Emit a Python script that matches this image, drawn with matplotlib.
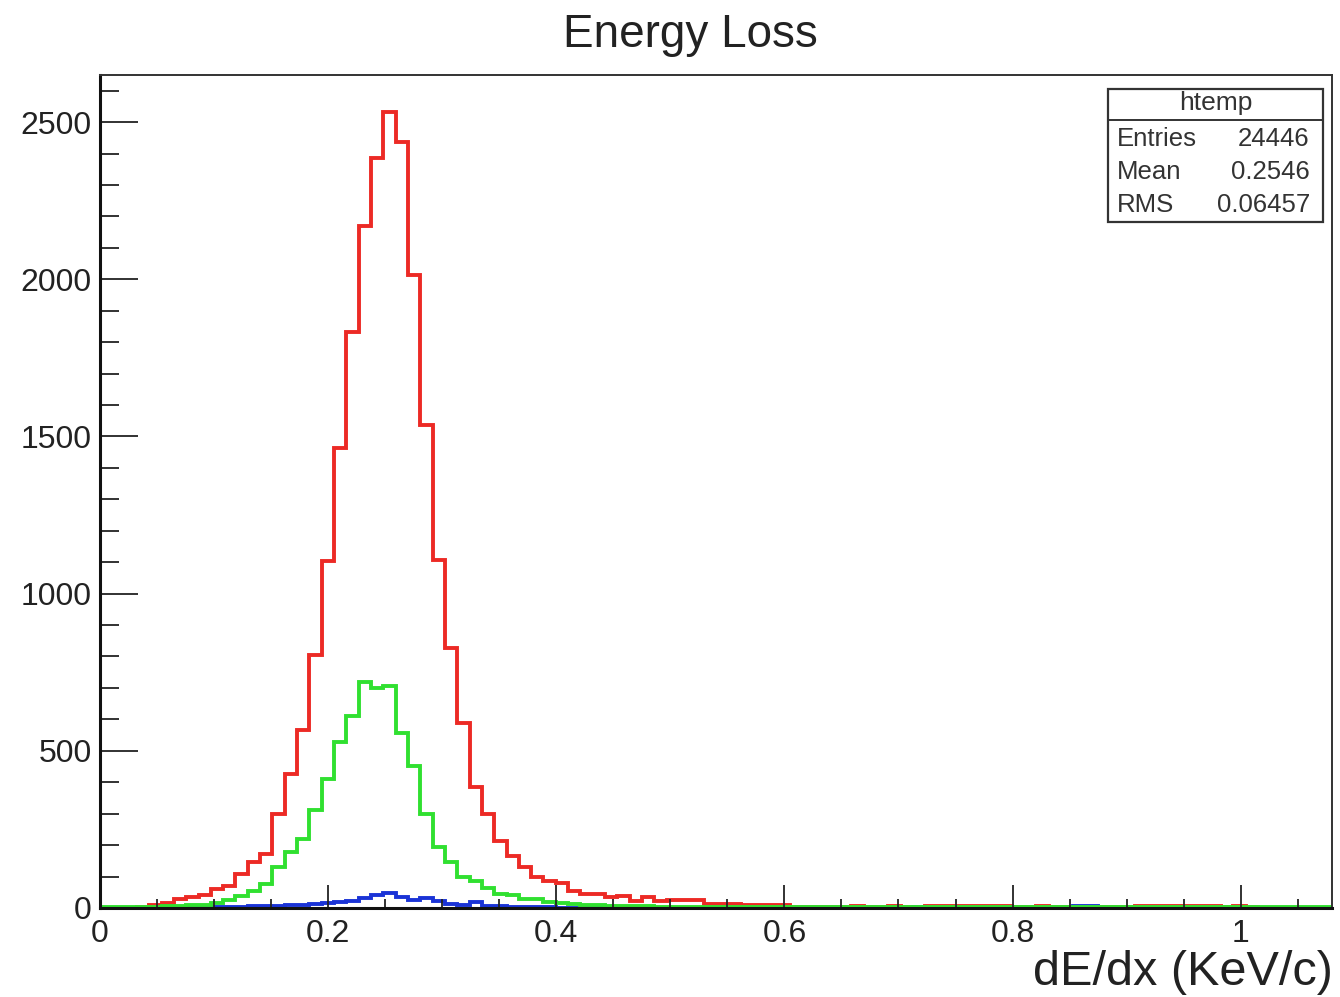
import numpy as np
import matplotlib.pyplot as plt
from matplotlib.patches import Rectangle
from matplotlib.ticker import MultipleLocator

plt.rcParams['font.family'] = ['Liberation Sans', 'DejaVu Sans']

# histogram binning (ROOT htemp: 100 bins over 0 .. 1.08)
x_lo = 0.0
x_hi = 1.08
n_bins = 100

# counts per bin
red_counts = [0, 0, 0, 4, 8, 15, 29, 36, 42, 60,
              70, 108, 145, 172, 299, 425, 567, 805, 1104, 1464,
              1831, 2168, 2386, 2533, 2437, 2013, 1538, 1108, 826, 588,
              386, 299, 214, 166, 129, 98, 87, 80, 55, 46,
              45, 35, 39, 22, 34, 23, 26, 26, 25, 14,
              12, 12, 10, 10, 8, 8, 4, 3, 4, 3,
              3, 7, 3, 2, 7, 2, 3, 7, 7, 7,
              7, 7, 7, 7, 2, 3, 7, 2, 2, 3,
              2, 2, 2, 2, 7, 7, 7, 7, 7, 7,
              7, 2, 6, 2, 0, 0, 0, 0, 0, 0]

green_counts = [4, 4, 4, 4, 4, 5, 6, 8, 10, 15,
                25, 39, 55, 76, 129, 177, 219, 313, 410, 527,
                610, 720, 701, 706, 558, 453, 298, 193, 145, 100,
                86, 62, 46, 40, 30, 28, 20, 15, 12, 10,
                8, 7, 6, 5, 5] + [4] * 55

blue_counts = [0, 0, 0, 0, 0, 0, 0, 0, 0, 2,
               3, 4, 5, 6, 7, 8, 10, 12, 15, 20,
               22, 32, 42, 48, 36, 26, 32, 22, 12, 10,
               20, 6, 5, 4, 3, 2, 2, 1, 1, 1,
               0, 0, 0, 0, 0, 0, 0, 0, 0, 0,
               0, 0, 0, 0, 0, 0, 0, 0, 0, 0,
               0, 0, 0, 0, 0, 0, 2, 0, 0, 0,
               0, 0, 0, 0, 0, 0, 0, 0, 0, 6,
               6, 0, 0, 0, 0, 0, 0, 0, 0, 0,
               0, 0, 0, 0, 0, 0, 0, 0, 0, 0]

stats_title = 'htemp'
stats_names = ['Entries', 'Mean', 'RMS']
stats_values = ['24446', '0.2546', '0.06457']

edges = np.linspace(x_lo, x_hi, n_bins + 1)

fig = plt.figure(figsize=(13.4, 9.97), dpi=100)
ax = fig.add_axes([0.0746, 0.0893, 0.9194, 0.8355])

lw = 2.8
ax.stairs(red_counts, edges, color='#ec2a25', lw=lw)
ax.stairs(blue_counts, edges, color='#1a33d6', lw=lw)
ax.stairs(green_counts, edges, color='#30e030', lw=lw)

ax.set_xlim(x_lo, x_hi)
ax.set_ylim(0, 2650)

ax.xaxis.set_major_locator(MultipleLocator(0.2))
ax.xaxis.set_minor_locator(MultipleLocator(0.05))
ax.yaxis.set_major_locator(MultipleLocator(500))
ax.yaxis.set_minor_locator(MultipleLocator(100))
ax.xaxis.set_major_formatter(plt.FuncFormatter(lambda v, p: '%g' % round(v, 2)))

ax.tick_params(axis='both', which='both', direction='in', color='#222222',
               labelsize=23, labelcolor='#222222')
ax.tick_params(axis='x', which='major', length=16.5, width=1.3, pad=8)
ax.tick_params(axis='x', which='minor', length=6.5, width=1.3)
ax.tick_params(axis='y', which='major', length=27, width=1.3, pad=6)
ax.tick_params(axis='y', which='minor', length=14, width=1.3)

for side in ['left', 'bottom']:
    ax.spines[side].set_linewidth(2.2)
    ax.spines[side].set_color('#111111')
for side in ['top', 'right']:
    ax.spines[side].set_linewidth(1.4)
    ax.spines[side].set_color('#333333')

# stats box
bx0, bx1 = 0.818, 0.9927
by0, by1 = 0.8235, 0.9832
ysep = 0.946
ax.add_patch(Rectangle((bx0, by0), bx1 - bx0, by1 - by0, transform=ax.transAxes,
                       facecolor='white', edgecolor='#333333', lw=1.6, zorder=5))
ax.plot([bx0, bx1], [ysep, ysep], transform=ax.transAxes, color='#333333',
        lw=1.4, zorder=6)
ax.text((bx0 + bx1) / 2, 0.9664, stats_title, transform=ax.transAxes,
        ha='center', va='center', fontsize=19, color='#333333', zorder=7)
rows_y = [0.9232, 0.8836, 0.844]
for name, val, yy in zip(stats_names, stats_values, rows_y):
    ax.text(0.8255, yy, name, transform=ax.transAxes, ha='left', va='center',
            fontsize=18.5, color='#333333', zorder=7)
    ax.text(0.982, yy, val, transform=ax.transAxes, ha='right', va='center',
            fontsize=18.5, color='#333333', zorder=7)

fig.text(0.515, 0.965, 'Energy Loss', ha='center', va='center', fontsize=33,
         color='#222222')
fig.text(0.9948, 0.025, 'dE/dx (KeV/c)', ha='right', va='center', fontsize=35,
         color='#222222')

fig.savefig('out.png', dpi=100, facecolor='white')
